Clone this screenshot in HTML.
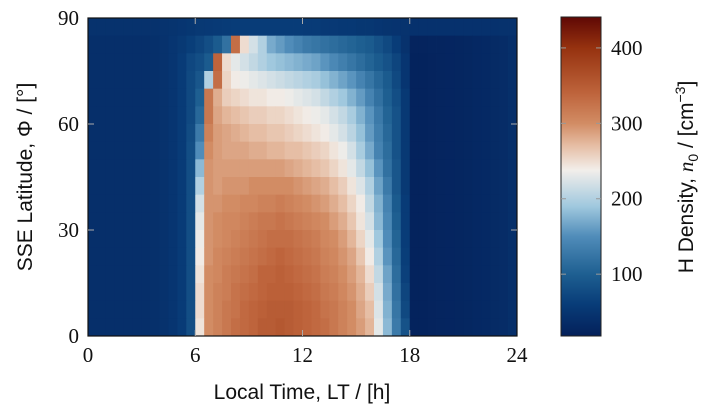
<!DOCTYPE html>
<html><head><meta charset="utf-8">
<style>
html,body{margin:0;padding:0;background:#fff;}
svg{display:block;}
.tk{font-family:"Liberation Serif",serif;font-size:21px;fill:#111;}
.tt{font-family:"Liberation Sans",sans-serif;font-size:21px;fill:#111;}
</style></head>
<body>
<svg id="chart" width="708" height="417" viewBox="0 0 708 417" xmlns="http://www.w3.org/2000/svg">
<g id="cells"></g>
<g id="cbar"></g>
<g id="axes"></g>
</svg>
<script>
// Local-time bins: 48 bins of 0.5 h; latitude bands of 5°, listed top (85-90) to bottom (0-5)
const ltEdges = [0, 24];
const latEdges = [0, 90];
const xTicks = [0, 6, 12, 18, 24];
const yTicks = [0, 30, 60, 90];
const cbTicks = [100, 200, 300, 400];
const cbRange = [18, 441];

const lat85 = [45,45,45,45,45,45,45,45,46,48,50,52, 55,56,57,58,60,60,60,60,60,60,60,60,58,58,56,56,54,54,52,52,50,48,47,46, 44,44,44,44,44,44,44,44,44,44,45,45];
const lat80 = [40,40,40,40,40,40,40,42,45,50,55,62, 70,80,95,120,330,250,220,200,170,160,150,140,130,125,120,115,110,105,100,95,85,75,60,45, 24,24,25,25,26,27,28,30,32,34,36,40];
const lat75 = [40,40,40,40,40,40,40,42,45,50,58,72, 80,95,340,250,230,220,210,200,190,185,180,175,170,165,155,145,135,125,115,105,95,85,70,50, 22,22,24,25,26,27,28,30,32,34,36,40];
const lat70 = [40,40,40,40,40,40,40,42,45,50,58,75, 90,200,330,255,240,235,230,225,220,215,210,205,200,195,185,175,165,155,140,125,110,95,75,50, 22,22,24,25,26,27,28,30,32,34,36,40];
const lat65 = [40,40,40,40,40,40,40,42,45,50,58,75, 100,320,280,260,255,250,245,245,240,240,235,230,225,220,210,200,190,175,160,140,120,100,80,55, 22,22,24,25,26,27,28,30,32,34,36,40];
const lat60 = [40,40,40,40,40,40,40,42,45,50,58,75, 110,320,285,275,270,265,260,260,255,255,250,245,240,235,230,220,210,195,175,155,130,105,85,55, 22,22,24,25,26,27,28,30,32,34,36,40];
const lat55 = [40,40,40,40,40,40,40,42,45,50,58,78, 130,310,290,285,280,275,270,270,265,265,260,255,250,245,240,230,220,205,185,160,135,110,85,55, 22,22,24,25,26,27,28,30,32,34,36,40];
const lat50 = [40,40,40,40,40,40,40,42,45,50,58,80, 150,300,290,285,285,285,280,280,275,275,270,270,265,260,255,245,235,220,195,170,140,115,85,55, 22,22,24,25,26,27,28,30,32,34,36,40];
const lat45 = [40,40,40,40,40,40,40,42,45,50,58,80, 180,295,290,290,290,290,290,290,290,290,285,280,275,270,265,255,245,230,210,185,155,120,90,55, 22,22,24,25,26,27,28,30,32,34,36,40];
const lat40 = [40,40,40,40,40,40,40,42,45,50,58,80, 200,295,290,295,295,295,300,300,300,300,300,295,290,285,280,270,260,245,225,200,165,130,90,55, 22,22,24,25,26,27,28,30,32,34,36,40];
const lat35 = [40,40,40,40,40,40,40,42,45,50,58,80, 220,295,295,300,300,305,305,310,310,315,310,305,300,295,290,280,270,255,240,210,175,140,95,58, 22,22,24,25,26,27,28,30,32,34,36,40];
const lat30 = [40,40,40,40,40,40,40,42,45,50,58,80, 230,295,300,305,305,310,315,320,320,325,320,315,310,305,300,290,280,265,245,220,180,145,100,58, 22,22,24,25,26,27,28,30,32,34,36,40];
const lat25 = [40,40,40,40,40,40,40,42,45,50,58,80, 235,295,300,305,310,315,320,325,330,330,330,325,320,315,305,300,290,275,255,230,190,150,105,60, 22,22,24,25,26,27,28,30,32,34,36,40];
const lat20 = [40,40,40,40,40,40,40,42,45,50,58,80, 240,295,305,310,315,320,325,330,335,340,335,330,325,320,310,305,295,285,265,240,200,155,110,62, 22,22,24,25,26,27,28,30,32,34,36,40];
const lat15 = [40,40,40,40,40,40,40,42,45,50,58,80, 245,300,305,315,320,325,330,340,340,345,340,335,330,325,315,310,300,290,275,250,210,165,115,65, 22,22,24,25,26,27,28,30,32,34,36,40];
const lat10 = [40,40,40,40,40,40,40,42,45,50,58,80, 250,300,310,315,325,330,335,340,345,345,345,340,335,330,320,315,305,295,280,260,220,170,120,70, 22,22,24,25,26,27,28,30,32,34,36,40];
const lat05 = [40,40,40,40,40,40,40,42,45,50,58,80, 250,300,310,320,325,335,340,345,350,350,350,345,340,335,325,320,310,300,285,270,225,175,125,75, 22,22,24,25,26,27,28,30,32,34,36,40];
const lat00 = [40,40,40,40,40,40,40,42,45,50,58,80, 245,300,310,320,330,335,340,350,350,355,350,345,340,335,330,320,310,300,290,275,230,180,130,85, 22,22,24,25,26,27,28,30,32,34,36,40];
const densityRows = [lat85,lat80,lat75,lat70,lat65,lat60,lat55,lat50,lat45,lat40,lat35,lat30,lat25,lat20,lat15,lat10,lat05,lat00];

const NS = "http://www.w3.org/2000/svg";
const P = {x0:88, x1:517, y0:18, y1:336};
const CB = {x0:561, x1:601, y0:17, y1:336};
const xS = v => P.x0 + (v - ltEdges[0]) / (ltEdges[1] - ltEdges[0]) * (P.x1 - P.x0);
const yS = v => P.y1 - (v - latEdges[0]) / (latEdges[1] - latEdges[0]) * (P.y1 - P.y0);
const cS = v => CB.y1 - (v - cbRange[0]) / (cbRange[1] - cbRange[0]) * (CB.y1 - CB.y0);

const stops = [[18,[4,32,90]],[60,[8,60,120]],[100,[30,95,145]],[150,[80,140,185]],[190,[160,200,222]],[238,[242,238,234]],[270,[230,190,165]],[300,[210,140,100]],[340,[190,100,60]],[400,[150,50,15]],[441,[95,8,5]]];
function color(v){
  if(v<=stops[0][0]) return `rgb(${stops[0][1]})`;
  for(let i=1;i<stops.length;i++){
    if(v<=stops[i][0]){
      const [a,ca]=stops[i-1],[b,cb]=stops[i];const t=(v-a)/(b-a);
      return `rgb(${ca.map((c,k)=>Math.round(c+(cb[k]-c)*t)).join(",")})`;
    }
  }
  return `rgb(${stops[stops.length-1][1]})`;
}
function mk(tag, attrs, parent){
  const e=document.createElementNS(NS,tag);
  for(const k in attrs) e.setAttribute(k,attrs[k]);
  parent.appendChild(e); return e;
}
const cells=document.getElementById("cells");
const nR=densityRows.length;
densityRows.forEach((row,ri)=>{
  const latTop = 90 - ri*(90/nR), latBot = latTop - 90/nR;
  const nC=row.length, w=24/nC;
  row.forEach((v,ci)=>{
    const x=xS(ci*w), x2=xS((ci+1)*w), y=yS(latTop), y2=yS(latBot);
    const r=mk("rect",{x:x,y:y,width:x2-x+0.4,height:y2-y+0.4,fill:color(v)},cells);
    
    
  });
});
const cb=document.getElementById("cbar");
for(let y=CB.y0;y<CB.y1;y++){
  const v=cbRange[0]+(CB.y1-y-0.5)/(CB.y1-CB.y0)*(cbRange[1]-cbRange[0]);
  mk("rect",{x:CB.x0,y:y,width:CB.x1-CB.x0,height:1.2,fill:color(v)},cb);
}
mk("rect",{x:CB.x0,y:CB.y0,width:CB.x1-CB.x0,height:CB.y1-CB.y0,fill:"none",stroke:"#222","stroke-width":1},cb);
cbTicks.forEach(t=>{
  const y=cS(t);
  mk("line",{x1:CB.x0,x2:CB.x0+5,y1:y,y2:y,stroke:"#999"},cb);
  mk("line",{x1:CB.x1-5,x2:CB.x1,y1:y,y2:y,stroke:"#999"},cb);
  const tx=mk("text",{x:611,y:y+7,class:"tk"},cb); tx.textContent=t;
  
  
});
const ct=mk("text",{x:0,y:0,class:"tt","text-anchor":"middle",transform:"translate(693,177) rotate(-90)"},cb);
ct.innerHTML='H Density, <tspan font-family="Liberation Serif" font-style="italic">n</tspan><tspan font-size="14" dy="5">0</tspan><tspan dy="-5"> / [cm</tspan><tspan font-size="14" dy="-8">−3</tspan><tspan dy="8">]</tspan>';



const ax=document.getElementById("axes");
mk("rect",{x:P.x0,y:P.y0,width:P.x1-P.x0,height:P.y1-P.y0,fill:"none",stroke:"#111","stroke-width":1.2},ax);
xTicks.forEach(t=>{
  const x=xS(t);
  if(t>0&&t<24){
    mk("line",{x1:x,x2:x,y1:P.y1,y2:P.y1-6,stroke:"#aaa"},ax);
    mk("line",{x1:x,x2:x,y1:P.y0,y2:P.y0+6,stroke:"#aaa"},ax);
  }
  const tx=mk("text",{x:x,y:362,class:"tk","text-anchor":"middle"},ax); tx.textContent=t;
  
  
});
yTicks.forEach(t=>{
  const y=yS(t);
  if(t>0&&t<90){
    mk("line",{x1:P.x0,x2:P.x0+6,y1:y,y2:y,stroke:"#aaa"},ax);
    mk("line",{x1:P.x1,x2:P.x1-6,y1:y,y2:y,stroke:"#aaa"},ax);
  }
  const tx=mk("text",{x:79,y:y+7,class:"tk","text-anchor":"end"},ax); tx.textContent=t;
  
  
});
const xt=mk("text",{x:302,y:399,class:"tt","text-anchor":"middle"},ax);
xt.textContent="Local Time, LT / [h]";


const yt=mk("text",{x:0,y:0,class:"tt","text-anchor":"middle",transform:"translate(32,177) rotate(-90)"},ax);
yt.textContent="SSE Latitude, Φ / [°]";


</script>
</body></html>
